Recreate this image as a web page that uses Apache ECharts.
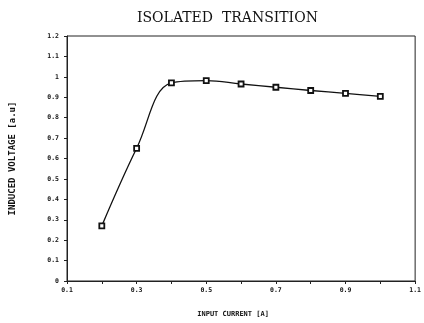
<!DOCTYPE html>
<html><head><meta charset="utf-8">
<script src="https://cdn.jsdelivr.net/npm/echarts@6/dist/echarts.min.js"></script>
<style>html,body{margin:0;padding:0;background:#fff}#c{width:424px;height:323px}</style>
</head><body><div id="c"></div>
<script>
const titleText = 'ISOLATED  TRANSITION';
const xName = 'INPUT CURRENT [A]';
const yName = 'INDUCED VOLTAGE [a.u]';
const current = [0.2, 0.3, 0.4, 0.5, 0.6, 0.7, 0.8, 0.9, 1.0];
const voltage = [0.27, 0.65, 0.97, 0.981, 0.965, 0.949, 0.933, 0.919, 0.904];

const chart = echarts.init(document.getElementById('c'));
const axisFont = {fontFamily: 'DejaVu Sans Mono', fontWeight: 'bold', fontSize: 6.5, color: '#111'};
chart.setOption({
  animation: false,
  backgroundColor: '#fff',
  title: {text: titleText, left: 132, top: 6,
    textStyle: {fontFamily: 'DejaVu Serif', fontWeight: 'normal', fontSize: 14, color: '#111'}},
  grid: {left: 63, right: 6, top: 36, bottom: 36, show: true, borderColor: '#222', borderWidth: 1},
  xAxis: {type: 'value', min: 0.1, max: 1.1, interval: 0.2,
    name: xName, nameLocation: 'middle', nameGap: 30,
    nameTextStyle: {fontFamily: 'DejaVu Sans Mono', fontWeight: 'bold', fontSize: 7, color: '#111', padding: [0, 16, 0, 0]},
    axisLine: {lineStyle: {color: '#222'}},
    axisTick: {show: true, length: 3, lineStyle: {color: '#222'}},
    minorTick: {show: true, splitNumber: 2, length: 3, lineStyle: {color: '#222'}},
    splitLine: {show: false},
    axisLabel: Object.assign({margin: 6}, axisFont)},
  yAxis: {type: 'value', min: 0, max: 1.2, interval: 0.1,
    name: yName, nameLocation: 'middle', nameGap: 50, nameRotate: 90,
    nameTextStyle: {fontFamily: 'DejaVu Sans Mono', fontWeight: 'bold', fontSize: 9, color: '#111'},
    axisLine: {show: true, lineStyle: {color: '#222'}},
    axisTick: {show: true, length: 3, lineStyle: {color: '#222'}},
    splitLine: {show: false},
    axisLabel: Object.assign({margin: 8}, axisFont)},
  series: [{type: 'line', data: current.map((x, i) => [x, voltage[i]]),
    smooth: 0.4, symbol: 'rect', symbolSize: 5,
    lineStyle: {color: '#111', width: 1.3},
    itemStyle: {color: '#fff', borderColor: '#111', borderWidth: 1.8}}]
});
</script></body></html>
